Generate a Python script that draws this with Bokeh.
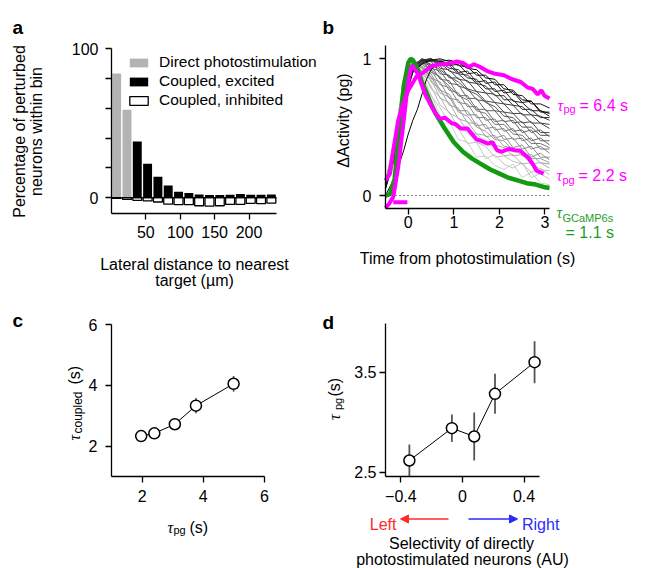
import math
from bokeh.plotting import figure
from bokeh.models import (Label, FixedTicker, Legend, LegendItem, Arrow,
                          NormalHead, Range1d, LinearAxis)
from bokeh.embed import file_html
from bokeh.resources import INLINE

FONT = "Liberation Sans"
SERIF = "Liberation Serif"

# ---------------- data: panel a ----------------
dist_bins = [7.5, 22.5, 37.5, 52.5, 67.5, 82.5, 97.5, 112.5, 127.5, 142.5,
             157.5, 172.5, 187.5, 202.5, 217.5, 232.5]
direct_pct = [83.2, 59.0, 0, 0, 0, 0, 0, 0, 0, 0, 0, 0, 0, 0, 0, 0]
excited_pct = [0, 0, 37.7, 22.7, 14.1, 8.1, 4.0, 3.1, 2.2, 1.8, 1.8, 2.0,
               2.5, 2.0, 2.0, 2.2]
inhibited_pct = [0.4, 1.1, 1.8, 2.2, 2.9, 4.3, 4.7, 4.7, 5.4, 5.6, 5.4, 4.5,
                 4.5, 3.8, 4.0, 3.6]
a_xticks = [50, 100, 150, 200]
a_yticks = [0, 20, 40, 60, 80, 100]

# ---------------- data: panel b ----------------
trace_t = [-0.5, -0.3, -0.1, 0.1, 0.3, 0.5, 0.7, 0.9, 1.1, 1.3, 1.5, 1.7,
           1.9, 2.1, 2.3, 2.5, 2.7, 2.9, 3.1]
# ordered from fastest decay (lightest) to slowest decay (darkest)
gray_traces = [
    [0.09, 0.42, 0.86, 0.99, 0.84, 0.74, 0.58, 0.54, 0.41, 0.39, 0.28, 0.29, 0.22, 0.19, 0.23, 0.13, 0.17, 0.09, 0.08],
    [0.07, 0.40, 0.84, 0.98, 0.89, 0.73, 0.64, 0.53, 0.49, 0.38, 0.39, 0.27, 0.30, 0.23, 0.20, 0.24, 0.13, 0.16, 0.12],
    [0.10, 0.43, 0.85, 0.99, 0.90, 0.80, 0.66, 0.61, 0.50, 0.46, 0.39, 0.36, 0.28, 0.29, 0.25, 0.23, 0.17, 0.20, 0.15],
    [0.08, 0.38, 0.82, 0.98, 0.93, 0.78, 0.72, 0.60, 0.57, 0.47, 0.45, 0.38, 0.36, 0.29, 0.30, 0.23, 0.24, 0.19, 0.18],
    [0.06, 0.40, 0.83, 0.99, 0.91, 0.85, 0.71, 0.68, 0.56, 0.54, 0.45, 0.44, 0.37, 0.35, 0.29, 0.30, 0.23, 0.24, 0.20],
    [0.08, 0.37, 0.80, 0.98, 0.95, 0.83, 0.78, 0.66, 0.64, 0.53, 0.53, 0.43, 0.44, 0.36, 0.35, 0.29, 0.30, 0.24, 0.23],
    [0.09, 0.41, 0.83, 0.98, 0.93, 0.87, 0.75, 0.72, 0.61, 0.58, 0.50, 0.47, 0.41, 0.40, 0.33, 0.33, 0.27, 0.27, 0.24],
    [0.10, 0.39, 0.81, 0.97, 0.94, 0.89, 0.77, 0.74, 0.62, 0.62, 0.51, 0.52, 0.42, 0.44, 0.35, 0.37, 0.28, 0.31, 0.26],
    [0.07, 0.36, 0.79, 0.98, 0.97, 0.86, 0.83, 0.71, 0.70, 0.59, 0.59, 0.49, 0.50, 0.41, 0.42, 0.34, 0.36, 0.28, 0.28],
    [0.09, 0.38, 0.80, 0.97, 0.96, 0.92, 0.81, 0.79, 0.68, 0.67, 0.57, 0.57, 0.48, 0.49, 0.41, 0.42, 0.34, 0.36, 0.31],
    [0.06, 0.35, 0.78, 0.96, 0.99, 0.90, 0.87, 0.77, 0.75, 0.65, 0.65, 0.55, 0.56, 0.47, 0.49, 0.40, 0.42, 0.34, 0.34],
    [0.07, 0.36, 0.78, 0.97, 0.98, 0.92, 0.86, 0.80, 0.73, 0.70, 0.62, 0.60, 0.52, 0.52, 0.45, 0.44, 0.38, 0.38, 0.35],
    [0.08, 0.34, 0.77, 0.96, 0.97, 0.95, 0.85, 0.84, 0.73, 0.73, 0.63, 0.63, 0.54, 0.55, 0.47, 0.48, 0.40, 0.42, 0.37],
    [0.05, 0.33, 0.76, 0.95, 1.00, 0.93, 0.91, 0.82, 0.81, 0.71, 0.71, 0.62, 0.62, 0.54, 0.55, 0.46, 0.48, 0.40, 0.40],
    [0.07, 0.35, 0.75, 0.95, 0.98, 0.98, 0.89, 0.88, 0.80, 0.78, 0.70, 0.69, 0.62, 0.61, 0.53, 0.54, 0.46, 0.48, 0.43],
    [0.08, 0.33, 0.75, 0.95, 0.99, 0.96, 0.92, 0.87, 0.83, 0.77, 0.74, 0.68, 0.65, 0.58, 0.57, 0.50, 0.50, 0.44, 0.44],
    [0.09, 0.32, 0.74, 0.94, 1.00, 0.95, 0.95, 0.86, 0.86, 0.78, 0.76, 0.69, 0.68, 0.61, 0.60, 0.53, 0.54, 0.46, 0.46],
    [0.06, 0.31, 0.73, 0.94, 0.99, 1.00, 0.93, 0.92, 0.85, 0.84, 0.76, 0.75, 0.68, 0.67, 0.60, 0.60, 0.53, 0.53, 0.49],
    [0.07, 0.30, 0.72, 0.93, 1.00, 0.98, 0.97, 0.91, 0.89, 0.83, 0.82, 0.75, 0.74, 0.67, 0.66, 0.59, 0.59, 0.53, 0.52],
    [0.05, 0.29, 0.70, 0.92, 0.99, 1.00, 0.96, 0.95, 0.89, 0.88, 0.82, 0.80, 0.73, 0.73, 0.66, 0.65, 0.59, 0.58, 0.55],
    [0.06, 0.29, 0.70, 0.92, 0.99, 0.99, 0.98, 0.93, 0.92, 0.86, 0.85, 0.78, 0.78, 0.70, 0.70, 0.63, 0.63, 0.57, 0.57],
    [0.06, 0.30, 0.71, 0.91, 0.98, 1.00, 0.97, 0.97, 0.90, 0.91, 0.83, 0.84, 0.76, 0.77, 0.69, 0.68, 0.62, 0.62, 0.58],
    [0.08, 0.28, 0.69, 0.90, 0.97, 0.99, 0.99, 0.95, 0.96, 0.89, 0.90, 0.82, 0.83, 0.75, 0.76, 0.68, 0.69, 0.61, 0.61],
    [0.05, 0.27, 0.68, 0.90, 0.96, 0.99, 1.00, 0.98, 0.95, 0.94, 0.88, 0.88, 0.81, 0.81, 0.74, 0.73, 0.67, 0.67, 0.64],
]
slow_t = [-0.5, -0.3, -0.1, 0.0, 0.1, 0.2, 0.3, 0.4, 0.5, 0.7, 0.9, 1.1, 1.3,
          1.5, 1.7, 1.9, 2.1, 2.3, 2.5, 2.7, 2.9, 3.1]
slow_trace = [0.00, 0.13, 0.33, 0.45, 0.55, 0.63, 0.74, 0.85, 0.92, 0.98,
              0.99, 0.97, 0.93, 0.92, 0.86, 0.85, 0.78, 0.77, 0.70, 0.69,
              0.62, 0.60]

gcamp_t = [-0.5, -0.4, -0.3, -0.2, -0.1, 0.0, 0.05, 0.1, 0.2, 0.3, 0.4, 0.5,
           0.6, 0.8, 1.0, 1.2, 1.4, 1.6, 1.8, 2.0, 2.2, 2.4, 2.6, 2.8, 3.0, 3.1]
gcamp_v = [0.0, 0.01, 0.12, 0.45, 0.80, 0.97, 1.0, 0.99, 0.93, 0.83, 0.75,
           0.67, 0.60, 0.49, 0.39, 0.32, 0.27, 0.23, 0.19, 0.16, 0.13, 0.11,
           0.09, 0.08, 0.06, 0.055]

fast_t = [-0.5, -0.42, -0.33, -0.22, -0.11, 0.0, 0.07, 0.14, 0.22, 0.37,
          0.48, 0.6, 0.7, 0.8, 0.95, 1.05, 1.15, 1.3, 1.4, 1.5,
          1.6, 1.75, 1.85, 1.95, 2.05, 2.2, 2.35, 2.45, 2.55, 2.65,
          2.75, 2.82, 2.9, 2.97]
fast_v = [-0.09, -0.06, -0.01, 0.21, 0.52, 0.84, 0.95, 0.93, 0.88, 0.74,
          0.67, 0.60, 0.56, 0.57, 0.53, 0.52, 0.49, 0.49, 0.45, 0.41,
          0.40, 0.38, 0.39, 0.33, 0.32, 0.34, 0.33, 0.33, 0.30, 0.27,
          0.22, 0.18, 0.17, 0.16]
slow_pg_t = [-0.5, -0.4, -0.33, -0.22, -0.11, 0.0, 0.18, 0.33, 0.48, 0.66,
             0.85, 1.07, 1.2, 1.33, 1.44, 1.58, 1.73, 1.91, 2.1, 2.28,
             2.47, 2.62, 2.73, 2.84, 2.92, 2.99, 3.1]
slow_pg_v = [0.11, 0.16, 0.33, 0.55, 0.67, 0.77, 0.87, 0.90, 0.94, 0.96,
             0.96, 0.98, 0.97, 0.94, 0.96, 0.94, 0.91, 0.89, 0.88, 0.85,
             0.83, 0.79, 0.78, 0.74, 0.77, 0.73, 0.71]
stim_window = [-0.33, -0.02]
stim_level = -0.05
b_xticks = [0, 1, 2, 3]
b_yticks = [0, 1]

# ---------------- data: panel c ----------------
c_tau_pg = [1.97, 2.40, 3.07, 3.76, 4.99]
c_tau_coupled = [2.33, 2.42, 2.72, 3.33, 4.05]
c_err = [0.08, 0.08, 0.1, 0.25, 0.26]
c_ticks = [2, 4, 6]

# ---------------- data: panel d ----------------
d_selectivity = [-0.345, -0.069, 0.076, 0.211, 0.468]
d_tau_pg = [2.617, 2.94, 2.857, 3.284, 3.60]
d_err = [0.16, 0.137, 0.24, 0.2, 0.21]
d_xticks = [-0.4, 0, 0.4]
d_yticks = [2.5, 3.5]

# ---------------- one canvas, page-pixel default ranges ----------------
W, H = 654, 568
p = figure(width=W, height=H, x_range=Range1d(0, W), y_range=Range1d(H, 0),
           output_backend="svg", toolbar_location=None,
           x_axis_location=None, y_axis_location=None,
           min_border_left=0, min_border_right=0, min_border_top=0,
           min_border_bottom=0)
p.outline_line_color = None
p.xgrid.visible = False
p.ygrid.visible = False


def add_panel(key, fl, ft, fw, fh, xr, yr):
    """Register ranges so that data xr/yr fill the frame box (page px)."""
    sx = (xr[1] - xr[0]) / fw
    sy = (yr[1] - yr[0]) / fh
    p.extra_x_ranges[key + "x"] = Range1d(xr[0] - fl * sx, xr[0] + (W - fl) * sx)
    p.extra_y_ranges[key + "y"] = Range1d(yr[1] - (H - ft) * sy, yr[1] + ft * sy)


def style_axis(ax, standoff):
    ax.axis_line_color = "black"
    ax.axis_line_width = 1.3
    ax.major_tick_line_color = "black"
    ax.major_tick_line_width = 1.3
    ax.major_tick_out = 6
    ax.major_tick_in = 0
    ax.minor_tick_line_color = None
    ax.major_label_text_font = FONT
    ax.major_label_text_font_size = "16px"
    ax.major_label_text_color = "black"
    ax.major_label_standoff = standoff


def add_axes(key, xr, yr, xticks, yticks, xs, ys, xover=None, yover=None):
    xa = LinearAxis(x_range_name=key + "x", y_range_name=key + "y",
                    fixed_location=yr[0], bounds=xr,
                    ticker=FixedTicker(ticks=xticks))
    style_axis(xa, xs)
    if xover:
        xa.major_label_overrides = xover
    p.add_layout(xa, "below")
    ya = LinearAxis(x_range_name=key + "x", y_range_name=key + "y",
                    fixed_location=xr[0], bounds=yr,
                    ticker=FixedTicker(ticks=yticks))
    style_axis(ya, ys)
    if yover:
        ya.major_label_overrides = yover
    p.add_layout(ya, "left")


def lab(px, py, text, size=16, color="black", align="left",
        baseline="alphabetic", angle=0.0, font=FONT, style="normal"):
    p.add_layout(Label(x=px, y=py, text=text, text_font=font,
                       text_font_size=f"{size}px", text_color=color,
                       text_align=align, text_baseline=baseline,
                       angle=angle, text_font_style=style))


V = math.pi / 2

# ================= panel a =================
AX, AY = (0, 240), (-10.6, 100)
add_panel("a", 111, 48, 165, 165, AX, AY)
ka = dict(x_range_name="ax", y_range_name="ay")
r_direct = p.vbar(x=dist_bins, top=direct_pct, bottom=0, width=13,
                  fill_color="#b3b3b3", line_color=None, **ka)
r_exc = p.vbar(x=dist_bins, top=excited_pct, bottom=0, width=13,
               fill_color="black", line_color=None, **ka)
r_inh = p.vbar(x=dist_bins, top=0, bottom=[-v for v in inhibited_pct],
               width=13, fill_color="white", line_color="black",
               line_width=1.3, **ka)
p.line(x=list(AX), y=[0, 0], line_color="black", line_width=1.3, **ka)
add_axes("a", AX, AY, a_xticks, a_yticks, 6, 7,
         yover={20: "", 40: "", 60: "", 80: ""})
leg = Legend(items=[LegendItem(label="Direct photostimulation", renderers=[r_direct]),
                    LegendItem(label="Coupled, excited", renderers=[r_exc]),
                    LegendItem(label="Coupled, inhibited", renderers=[r_inh])],
             location=(127, H - 109), background_fill_alpha=0,
             border_line_color=None, label_text_font=FONT,
             label_text_font_size="15.5px", label_text_color="black",
             glyph_width=23, glyph_height=11,
             label_height=18, spacing=1, padding=0, margin=0,
             label_standoff=9)
p.add_layout(leg)
lab(12, 27, "a", size=19, style="bold")
lab(19, 131, "Percentage of perturbed", align="center", baseline="middle", angle=V)
lab(36, 131, "neurons within bin", align="center", baseline="middle", angle=V)
lab(194, 264, "Lateral distance to nearest", align="center")
lab(194, 280, "target (\u00b5m)", align="center")

# ================= panel b =================
BX, BY = (-0.5, 3.1), (-0.095, 1.097)
add_panel("b", 385, 45, 164, 163, BX, BY)
kb = dict(x_range_name="bx", y_range_name="by")
n = len(gray_traces)
cols = []
for i in range(n):
    g = int(205 - (205 - 20) * i / (n - 1))
    cols.append("#%02x%02x%02x" % (g, g, g))
p.multi_line(xs=[trace_t] * n, ys=gray_traces, line_color=cols,
             line_width=1, **kb)
p.line(slow_t, slow_trace, line_color="black", line_width=1, **kb)
p.line(x=[-0.28, 3.1], y=[0, 0], line_color="black", line_width=1,
       line_dash="1 3", **kb)
p.line(gcamp_t, gcamp_v, line_color="#139a13", line_width=4.5, **kb)
p.line(fast_t, fast_v, line_color="#ff00ff", line_width=4, **kb)
p.line(slow_pg_t, slow_pg_v, line_color="#ff00ff", line_width=4, **kb)
p.line(x=stim_window, y=[stim_level, stim_level], line_color="#ff00ff",
       line_width=4, **kb)
add_axes("b", BX, BY, b_xticks, b_yticks, 1, 8)
lab(322, 27, "b", size=19, style="bold")
lab(343, 120, "\u0394Activity (pg)", align="center", baseline="middle", angle=V)
lab(467, 258, "Time from photostimulation (s)", align="center")
MAG = "#ff00ff"
GRN = "#1e9e1e"
lab(557, 104.5, "\u03c4", font=SERIF, style="italic", color=MAG)
lab(563, 108.5, "pg", size=11, color=MAG)
lab(579, 104.5, "= 6.4 s", color=MAG)
lab(556, 175, "\u03c4", font=SERIF, style="italic", color=MAG)
lab(562, 179, "pg", size=11, color=MAG)
lab(578, 175, "= 2.2 s", color=MAG)
lab(556, 212, "\u03c4", font=SERIF, style="italic", color=GRN)
lab(562, 217, "GCaMP6s", size=11, color=GRN)
lab(565, 232, "= 1.1 s", color=GRN)

# ================= panel c =================
CX, CY = (1, 6), (1, 6)
add_panel("c", 111, 324, 153, 152, CX, CY)
kc = dict(x_range_name="cx", y_range_name="cy")
p.line(c_tau_pg, c_tau_coupled, line_color="black", line_width=1, **kc)
p.segment(x0=c_tau_pg, x1=c_tau_pg,
          y0=[y - e for y, e in zip(c_tau_coupled, c_err)],
          y1=[y + e for y, e in zip(c_tau_coupled, c_err)],
          line_color="#555555", line_width=1.6, **kc)
p.scatter(c_tau_pg, c_tau_coupled, size=11, fill_color="white",
          line_color="black", line_width=1.5, **kc)
add_axes("c", CX, CY, c_ticks, c_ticks, 7, 8)
lab(12, 320, "c", size=19, style="bold")
lab(167, 526.5, "\u03c4", font=SERIF, style="italic")
lab(173, 529.5, "pg", size=11)
lab(189, 526.5, "(s)")
lab(74, 440, "\u03c4", font=SERIF, style="italic", angle=V)
lab(77, 433, "coupled", size=12, angle=V)
lab(74, 384, "(s)", angle=V)

# ================= panel d =================
DX, DY = (-0.5, 0.5), (2.457, 3.987)
add_panel("d", 385, 323, 154, 153, DX, DY)
kd = dict(x_range_name="dx", y_range_name="dy")
p.line(d_selectivity, d_tau_pg, line_color="black", line_width=1, **kd)
p.segment(x0=d_selectivity, x1=d_selectivity,
          y0=[y - e for y, e in zip(d_tau_pg, d_err)],
          y1=[y + e for y, e in zip(d_tau_pg, d_err)],
          line_color="#555555", line_width=1.8, **kd)
p.scatter(d_selectivity, d_tau_pg, size=11, fill_color="white",
          line_color="black", line_width=1.5, **kd)
add_axes("d", DX, DY, d_xticks, d_yticks, 7, 3,
         xover={-0.4: "\u22120.4", 0: "0", 0.4: "0.4"})
lab(322, 322, "d", size=19, style="bold")
lab(333.5, 419.5, "\u03c4", font=SERIF, style="italic", angle=V)
lab(337, 409.5, "pg", size=11, angle=V)
lab(333.5, 396, "(s)", angle=V)
RED = "#ff2a2a"
BLUE = "#2a2aff"
lab(396, 523.5, "Left", color=RED, align="right")
lab(521.5, 523.5, "Right", color=BLUE)
p.add_layout(Arrow(x_start=448, y_start=518.5, x_end=400, y_end=518.5,
                   line_color=RED, line_width=1.5,
                   end=NormalHead(size=8, fill_color=RED, line_color=RED)))
p.add_layout(Arrow(x_start=468, y_start=518.5, x_end=517, y_end=518.5,
                   line_color=BLUE, line_width=1.5,
                   end=NormalHead(size=8, fill_color=BLUE, line_color=BLUE)))
lab(461, 543, "Selectivity of directly", align="center")
lab(462, 559, "photostimulated neurons (AU)", align="center")

open("out.html", "w").write(file_html(p, INLINE))
